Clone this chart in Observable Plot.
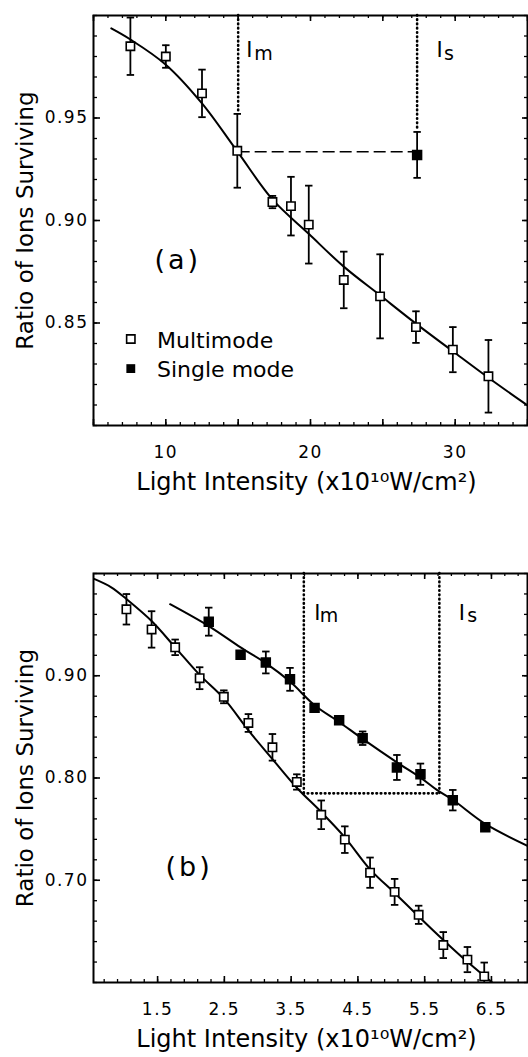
<!DOCTYPE html>
<html><head><meta charset="utf-8">
<script src="https://cdn.jsdelivr.net/npm/d3@7"></script>
<script src="https://cdn.jsdelivr.net/npm/@observablehq/plot@0.6"></script>
<style>
body{margin:0;background:#fff;}
#wrap{width:528px;}
#wrap svg{display:block;}
#wrap g[aria-label$="tick label"] text{letter-spacing:1.5px;}
</style></head><body><div id="wrap"></div>
<script>
// ---------- Panel (a) data ----------
const aIntensity    = [7.55, 10.0, 12.5, 14.94, 17.37, 18.65, 19.88, 22.3, 24.81, 27.29, 29.84, 32.3];
const aMultimode    = [0.985, 0.980, 0.962, 0.934, 0.909, 0.907, 0.898, 0.871, 0.863, 0.848, 0.837, 0.824];
const aMultimodeErr = [0.014, 0.0055, 0.0116, 0.018, 0.003, 0.0143, 0.019, 0.0138, 0.0205, 0.0077, 0.011, 0.0177];
const aSingleIntensity = [27.37];
const aSingle          = [0.932];
const aSingleErr       = [0.0112];
const aFitX = [6.23, 7.55, 10.0, 12.5, 14.94, 17.37, 19.88, 22.3, 24.81, 27.29, 29.84, 32.3, 35.0];
const aFitY = [0.9937, 0.9883, 0.976, 0.9571, 0.9337, 0.9103, 0.8935, 0.8775, 0.8635, 0.8497, 0.8362, 0.8233, 0.8098];
const aGuideX      = [15.0, 27.37];      // I_m, I_s
const aGuideBottom = [0.9535, 0.945];
const aGuideSubs   = ["m", "s"];
const aDashY = [0.9335];
const aXTickLabels = [10, 20, 30];
const aYTickLabels = [0.85, 0.90, 0.95];

// ---------- Panel (b) data ----------
const bMultiX   = [1.033, 1.41, 1.763, 2.13, 2.492, 2.86, 3.22, 3.585, 3.951, 4.304, 4.682, 5.05, 5.41, 5.779, 6.14, 6.392];
const bMultiY   = [0.965, 0.9453, 0.9278, 0.8976, 0.8794, 0.8538, 0.830, 0.7961, 0.764, 0.7397, 0.7074, 0.6886, 0.6662, 0.6366, 0.6224, 0.606];
const bMultiErr = [0.0149, 0.0178, 0.0076, 0.0107, 0.0063, 0.0087, 0.013, 0.0075, 0.014, 0.013, 0.0148, 0.0127, 0.0089, 0.0127, 0.0123, 0.0135];
const bSingleX   = [2.266, 2.743, 3.121, 3.483, 3.851, 4.219, 4.571, 5.084, 5.437, 5.921, 6.408];
const bSingleY   = [0.9529, 0.9206, 0.913, 0.8965, 0.8686, 0.8564, 0.8389, 0.8103, 0.8037, 0.7783, 0.7519];
const bSingleErr = [0.0137, 0, 0.0107, 0.0112, 0, 0, 0.0066, 0.0122, 0.0104, 0.01, 0];
const bFitMultiX = [0.549, 0.806, 1.033, 1.41, 1.763, 2.13, 2.492, 2.86, 3.22, 3.585, 3.951, 4.304, 4.682, 5.05, 5.41, 5.779, 6.14, 6.594];
const bFitMultiY = [0.9947, 0.9865, 0.975, 0.9535, 0.9278, 0.9008, 0.8778, 0.8466, 0.8185, 0.7905, 0.7667, 0.742, 0.7107, 0.6876, 0.6646, 0.6416, 0.6202, 0.5955];
const bFitSingleX = [1.687, 2.266, 2.743, 3.121, 3.483, 3.851, 4.219, 4.571, 5.084, 5.437, 5.688, 5.93, 6.408, 7.04];
const bFitSingleY = [0.970, 0.9486, 0.9278, 0.9124, 0.8943, 0.8712, 0.8548, 0.8382, 0.8153, 0.8004, 0.7881, 0.7782, 0.7551, 0.7337];
const bGuideX = [3.69, 5.72];
const bGuideBottom = [0.785, 0.785];
const bGuideSubs = ["m", "s"];
const bDotY = [0.785];
const bXTickLabels = [1.5, 2.5, 3.5, 4.5, 5.5, 6.5];
const bYTickLabels = [0.70, 0.80, 0.90];

const legendLabels = ["Multimode", "Single mode"];
const panelLabels = ["(a)", "(b)"];
const xTitle = "Light Intensity (x10\u00B9\u2070W/cm\u00B2)";
const yTitle = "Ratio of Ions Surviving";

// ---------- helpers ----------
const rows = (xs, ys, es) => xs.map((x, i) => ({x, y: ys[i], e: es ? es[i] : 0}));
const cap = {draw(ctx, size) { const w = Math.sqrt(size) / 2; ctx.moveTo(-w, 0); ctx.lineTo(w, 0); }};
const W = 528;
const dotted = {strokeDasharray: "0.6 3.7", strokeLinecap: "round", strokeWidth: 2.6, shapeRendering: "geometricPrecision"};

function frameTicks(xMinor, xMajor, yMinor, yMajor, plotW, plotH) {
  return [
    Plot.tickX(xMinor, {x: d => d, insetTop: plotH - 3, strokeWidth: 1.3}),
    Plot.tickX(xMajor, {x: d => d, insetTop: plotH - 6, strokeWidth: 1.6}),
    Plot.tickX(xMinor, {x: d => d, insetBottom: plotH - 3, strokeWidth: 1.3}),
    Plot.tickX(xMajor, {x: d => d, insetBottom: plotH - 6, strokeWidth: 1.6}),
    Plot.tickY(yMinor, {y: d => d, insetRight: plotW - 4, strokeWidth: 1.3}),
    Plot.tickY(yMajor, {y: d => d, insetRight: plotW - 7, strokeWidth: 1.6}),
    Plot.tickY(yMinor, {y: d => d, insetLeft: plotW - 3, strokeWidth: 1.3}),
    Plot.tickY(yMajor, {y: d => d, insetLeft: plotW - 5, strokeWidth: 1.6})
  ];
}

function errorMarks(data, filled, yMin) {
  const withErr = data.filter(d => d.e > 0);
  return [
    Plot.ruleX(withErr, {x: "x", y1: d => Math.max(yMin, d.y - d.e), y2: d => d.y + d.e, strokeWidth: 1.8}),
    Plot.dot(withErr, {x: "x", y: d => d.y + d.e, symbol: cap, r: 4.2, stroke: "black", fill: "none", strokeWidth: 1.8}),
    Plot.dot(withErr.filter(d => d.y - d.e > yMin), {x: "x", y: d => d.y - d.e, symbol: cap, r: 4.2, stroke: "black", fill: "none", strokeWidth: 1.8}),
    Plot.dot(data, {x: "x", y: "y", symbol: "square", r: filled ? 5 : 4.7, stroke: "black",
      fill: filled ? "black" : "white", strokeWidth: 1.6})
  ];
}

// "I" + subscript label next to a guide line
function guideLabel(x, sub, dxI, dxSub, dyI, dySub) {
  return [
    Plot.text([x], {x: d => d, frameAnchor: "top", text: () => "I", textAnchor: "start", lineAnchor: "middle", fontSize: 21, dx: dxI, dy: dyI}),
    Plot.text([x], {x: d => d, frameAnchor: "top", text: () => sub, textAnchor: "start", lineAnchor: "middle", fontSize: 19, dx: dxSub, dy: dySub})
  ];
}

function titles() {
  return [
    Plot.text([xTitle], {frameAnchor: "bottom", textAnchor: "middle", lineAnchor: "middle", dy: 57, dx: -4, fontSize: 24}),
    Plot.text([yTitle], {frameAnchor: "left", textAnchor: "middle", lineAnchor: "middle", dx: -68, rotate: -90, fontSize: 23})
  ];
}

// ---------- Panel (a) ----------
const aPW = W - 93 - 1, aPH = 530 - 15 - 105;
const aData = rows(aIntensity, aMultimode, aMultimodeErr);
const aSData = rows(aSingleIntensity, aSingle, aSingleErr);
const aGuides = aGuideX.map((x, i) => ({x, y2: aGuideBottom[i]}));

const plotA = Plot.plot({
  width: W, height: 530, marginLeft: 93, marginRight: 1, marginTop: 15, marginBottom: 105,
  x: {domain: [5, 35]}, y: {domain: [0.80, 1.00]},
  style: {fontFamily: "DejaVu Sans", background: "white", color: "black"},
  marks: [
    ...frameTicks(d3.range(5, 35.01, 1), d3.range(5, 35.01, 5), d3.range(0.80, 1.0001, 0.01), aYTickLabels, aPW, aPH),
    Plot.frame({strokeWidth: 2}),
    Plot.axisX(aXTickLabels, {tickSize: 0, tickPadding: 20, fontSize: 17, label: null, tickFormat: d => String(d)}),
    Plot.axisY(aYTickLabels, {tickSize: 0, tickPadding: 5, fontSize: 17, label: null, tickFormat: d3.format(".2f")}),
    ...titles(),
    Plot.ruleX(aGuides, {x: "x", y1: 1.0, y2: "y2", ...dotted}),
    Plot.ruleY(aDashY, {y: d => d, x1: aGuideX[0], x2: aGuideX[1], strokeDasharray: "12 5", strokeWidth: 1.5}),
    Plot.line(rows(aFitX, aFitY), {x: "x", y: "y", curve: "catmull-rom", strokeWidth: 2, clip: true}),
    ...errorMarks(aData, false, 0.8),
    ...errorMarks(aSData, true, 0.8),
    ...guideLabel(aGuideX[0], aGuideSubs[0], 8, 16, 35, 38),
    ...guideLabel(aGuideX[1], aGuideSubs[1], 19.5, 27, 35, 38),
    Plot.text([legendLabels[0]], {frameAnchor: "top-left", dx: 63.5, dy: 325, textAnchor: "start", lineAnchor: "middle", fontSize: 22}),
    Plot.text([legendLabels[1]], {frameAnchor: "top-left", dx: 63.5, dy: 354, textAnchor: "start", lineAnchor: "middle", fontSize: 22}),
    Plot.dot([0], {frameAnchor: "top-left", dx: 37.3, dy: 323.5, symbol: "square", r: 4.7, stroke: "black", fill: "white", strokeWidth: 1.6}),
    Plot.dot([0], {frameAnchor: "top-left", dx: 37.3, dy: 353.1, symbol: "square", r: 5, fill: "black"}),
    Plot.text([panelLabels[0]], {frameAnchor: "top-left", textAnchor: "start", lineAnchor: "middle", dx: 61, dy: 245, fontSize: 27})
  ]
});

// ---------- Panel (b) ----------
const bPW = W - 93 - 1, bPH = 527 - 43 - 75;
const bMData = rows(bMultiX, bMultiY, bMultiErr);
const bSData = rows(bSingleX, bSingleY, bSingleErr);
const bGuides = bGuideX.map((x, i) => ({x, y2: bGuideBottom[i]}));

const plotB = Plot.plot({
  width: W, height: 527, marginLeft: 93, marginRight: 1, marginTop: 43, marginBottom: 75,
  x: {domain: [0.54, 7.04]}, y: {domain: [0.60, 1.00]},
  style: {fontFamily: "DejaVu Sans", background: "white", color: "black"},
  marks: [
    ...frameTicks(d3.range(0.7, 7.0, 0.2), bXTickLabels, d3.range(0.60, 1.0001, 0.02), bYTickLabels, bPW, bPH),
    Plot.frame({strokeWidth: 2}),
    Plot.axisX(bXTickLabels, {tickSize: 0, tickPadding: 20, fontSize: 17, label: null, tickFormat: d3.format(".1f")}),
    Plot.axisY(bYTickLabels, {tickSize: 0, tickPadding: 5, fontSize: 17, label: null, tickFormat: d3.format(".2f")}),
    ...titles(),
    Plot.ruleX(bGuides, {x: "x", y1: 1.0, y2: "y2", ...dotted}),
    Plot.ruleY(bDotY, {y: d => d, x1: bGuideX[0], x2: bGuideX[1], ...dotted}),
    Plot.line(rows(bFitMultiX, bFitMultiY), {x: "x", y: "y", curve: "catmull-rom", strokeWidth: 2, clip: true}),
    Plot.line(rows(bFitSingleX, bFitSingleY), {x: "x", y: "y", curve: "catmull-rom", strokeWidth: 2, clip: true}),
    ...errorMarks(bMData, false, 0.6),
    ...errorMarks(bSData, true, 0.6),
    ...guideLabel(bGuideX[0], bGuideSubs[0], 10.5, 16, 39.5, 42.5),
    ...guideLabel(bGuideX[1], bGuideSubs[1], 19.5, 28, 39.5, 42.5),
    Plot.text([panelLabels[1]], {frameAnchor: "top-left", textAnchor: "start", lineAnchor: "middle", dx: 72, dy: 294, fontSize: 27})
  ]
});

const wrap = document.getElementById("wrap");
wrap.append(plotA, plotB);
// widen the panel tags like the original lettering
wrap.querySelectorAll("text").forEach(t => {
  if (panelLabels.includes(t.textContent)) t.style.letterSpacing = "3px";
});
</script>
</body></html>
